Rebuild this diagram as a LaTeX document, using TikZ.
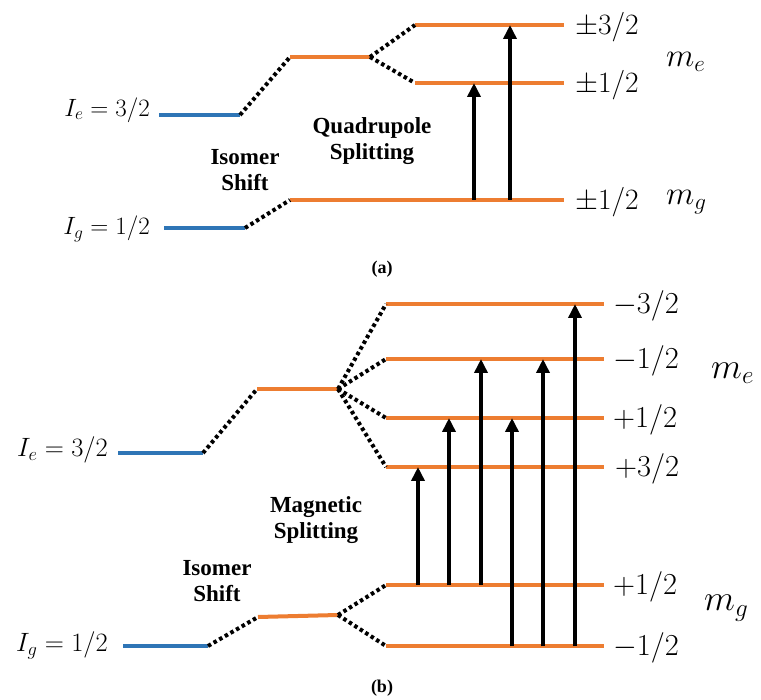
\RequirePackage{fix-cm}
\documentclass[tikz,border=0pt]{standalone}
\usepackage{fontspec}
\newfontfamily\lblfont{Liberation Serif}
\usetikzlibrary{arrows.meta}
\definecolor{lvorange}{HTML}{ED7D31}
\definecolor{lvblue}{HTML}{2E75B6}
\begin{document}
\begin{tikzpicture}[x=1pt,y=-1pt,
 olev/.style={draw=lvorange,line width=4pt},
 blev/.style={draw=lvblue,line width=4pt},
 dots/.style={line width=4pt,dash pattern=on 3.5pt off 3pt},
 trans/.style={line width=4pt,-{Triangle[width=13pt,length=14pt]}},
 lab/.style={inner sep=0pt},
 bold/.style={inner sep=0pt,font=\lblfont\bfseries\fontsize{23}{26}\selectfont,align=center},
 captxt/.style={inner sep=0pt,font=\lblfont\bfseries\fontsize{18}{22}\selectfont}]
\useasboundingbox (0,0) rectangle (761,700);
% ---------- panel (a) ----------
\coordinate (aIeL) at (159,115); \coordinate (aIeR) at (240,115);
\coordinate (aEL) at (290,57);  \coordinate (aER) at (370,57);
\coordinate (a32L) at (415,25); \coordinate (a32R) at (564,25);
\coordinate (a12L) at (415,83); \coordinate (a12R) at (564,83);
\coordinate (aIgL) at (164,228); \coordinate (aIgR) at (245,228);
\coordinate (aGL) at (290,200); \coordinate (aGR) at (564,200);
\draw[blev] (aIeL) -- (aIeR);
\draw[blev] (aIgL) -- (aIgR);
\draw[olev] (aEL) -- (aER);
\draw[olev] (a32L) -- (a32R);
\draw[olev] (a12L) -- (a12R);
\draw[olev] (aGL) -- (aGR);
\draw[dots] (aIeR) -- (aEL);
\draw[dots] (aIgR) -- (aGL);
\draw[dots] (aER) -- (a32L);
\draw[dots] (aER) -- (a12L);
\coordinate (aA1s) at (474,200); \coordinate (aA1e) at (474,83);
\coordinate (aA2s) at (510,200); \coordinate (aA2e) at (510,25);
\draw[trans] (aA1s) -- (aA1e);
\draw[trans] (aA2s) -- (aA2e);
\node[lab,anchor=east,font=\fontsize{25}{28}\selectfont] (aIe) at (150,110) {$I_e = 3/2$};
\node[lab,anchor=east,font=\fontsize{25}{28}\selectfont] (aIg) at (150,229) {$I_g = 1/2$};
\node[lab,anchor=west,font=\fontsize{29.5}{32}\selectfont] (al1) at (575,27) {$\pm3/2$};
\node[lab,anchor=west,font=\fontsize{29.5}{32}\selectfont] (al2) at (575,85) {$\pm1/2$};
\node[lab,anchor=west,font=\fontsize{29.5}{32}\selectfont] (al3) at (575,202) {$\pm1/2$};
\node[lab,anchor=west,font=\fontsize{33}{36}\selectfont] (ame) at (666,62) {$m_e$};
\node[lab,anchor=west,font=\fontsize{33}{36}\selectfont] (amg) at (666,202) {$m_g$};
\node[bold] (aq) at (372,141) {Quadrupole\\Splitting};
\node[bold] (ai) at (245,170) {Isomer\\Shift};
\node[captxt] (acap) at (382,269) {(a)};
% ---------- panel (b) ----------
\coordinate (bIeL) at (118,453); \coordinate (bIeR) at (203,453);
\coordinate (bEL) at (257,389);  \coordinate (bER) at (338,389);
\coordinate (bm32L) at (386,304); \coordinate (bm32R) at (604,304);
\coordinate (bm12L) at (386,359); \coordinate (bm12R) at (604,359);
\coordinate (bp12L) at (386,418); \coordinate (bp12R) at (604,418);
\coordinate (bp32L) at (386,467); \coordinate (bp32R) at (604,467);
\coordinate (bIgL) at (123,646); \coordinate (bIgR) at (208,646);
\coordinate (bGL) at (258,617);  \coordinate (bGR) at (338,615);
\coordinate (bgpL) at (386,585); \coordinate (bgpR) at (604,585);
\coordinate (bgmL) at (386,646); \coordinate (bgmR) at (604,646);
\draw[blev] (bIeL) -- (bIeR);
\draw[blev] (bIgL) -- (bIgR);
\draw[olev] (bEL) -- (bER);
\draw[olev] (bGL) -- (bGR);
\foreach \n in {bm32,bm12,bp12,bp32,bgp,bgm} {\draw[olev] (\n L) -- (\n R);}
\draw[dots] (bIeR) -- (bEL);
\draw[dots] (bIgR) -- (bGL);
\foreach \n in {bm32,bm12,bp12,bp32} {\draw[dots] (bER) -- (\n L);}
\draw[dots] (bGR) -- (bgpL);
\draw[dots] (bGR) -- (bgmL);
\coordinate (bA1s) at (418,585); \coordinate (bA1e) at (418,467);
\coordinate (bA2s) at (449,585); \coordinate (bA2e) at (449,418);
\coordinate (bA3s) at (481,585); \coordinate (bA3e) at (481,359);
\coordinate (bA4s) at (512,646); \coordinate (bA4e) at (512,418);
\coordinate (bA5s) at (543,646); \coordinate (bA5e) at (543,359);
\coordinate (bA6s) at (575,646); \coordinate (bA6e) at (575,304);
\foreach \i in {1,...,6} {\draw[trans] (bA\i s) -- (bA\i e);}
\node[lab,anchor=east,font=\fontsize{26.5}{30}\selectfont] (bIe) at (108,450) {$I_e = 3/2$};
\node[lab,anchor=east,font=\fontsize{26.5}{30}\selectfont] (bIg) at (108,645) {$I_g = 1/2$};
\node[lab,anchor=west,font=\fontsize{30.5}{34}\selectfont] (bl1) at (613,306) {$-3/2$};
\node[lab,anchor=west,font=\fontsize{30.5}{34}\selectfont] (bl2) at (613,361) {$-1/2$};
\node[lab,anchor=west,font=\fontsize{30.5}{34}\selectfont] (bl3) at (613,420) {$+1/2$};
\node[lab,anchor=west,font=\fontsize{30.5}{34}\selectfont] (bl4) at (615,469) {$+3/2$};
\node[lab,anchor=west,font=\fontsize{30.5}{34}\selectfont] (bl5) at (613,587) {$+1/2$};
\node[lab,anchor=west,font=\fontsize{30.5}{34}\selectfont] (bl6) at (613,648) {$-1/2$};
\node[lab,anchor=west,font=\fontsize{36}{40}\selectfont] (bme) at (711,373) {$m_e$};
\node[lab,anchor=west,font=\fontsize{36}{40}\selectfont] (bmg) at (704,608) {$m_g$};
\node[bold] (bm) at (316,520) {Magnetic\\Splitting};
\node[bold] (bi) at (217,581) {Isomer\\Shift};
\node[captxt] (bcap) at (382,688) {(b)};
\end{tikzpicture}
\end{document}
